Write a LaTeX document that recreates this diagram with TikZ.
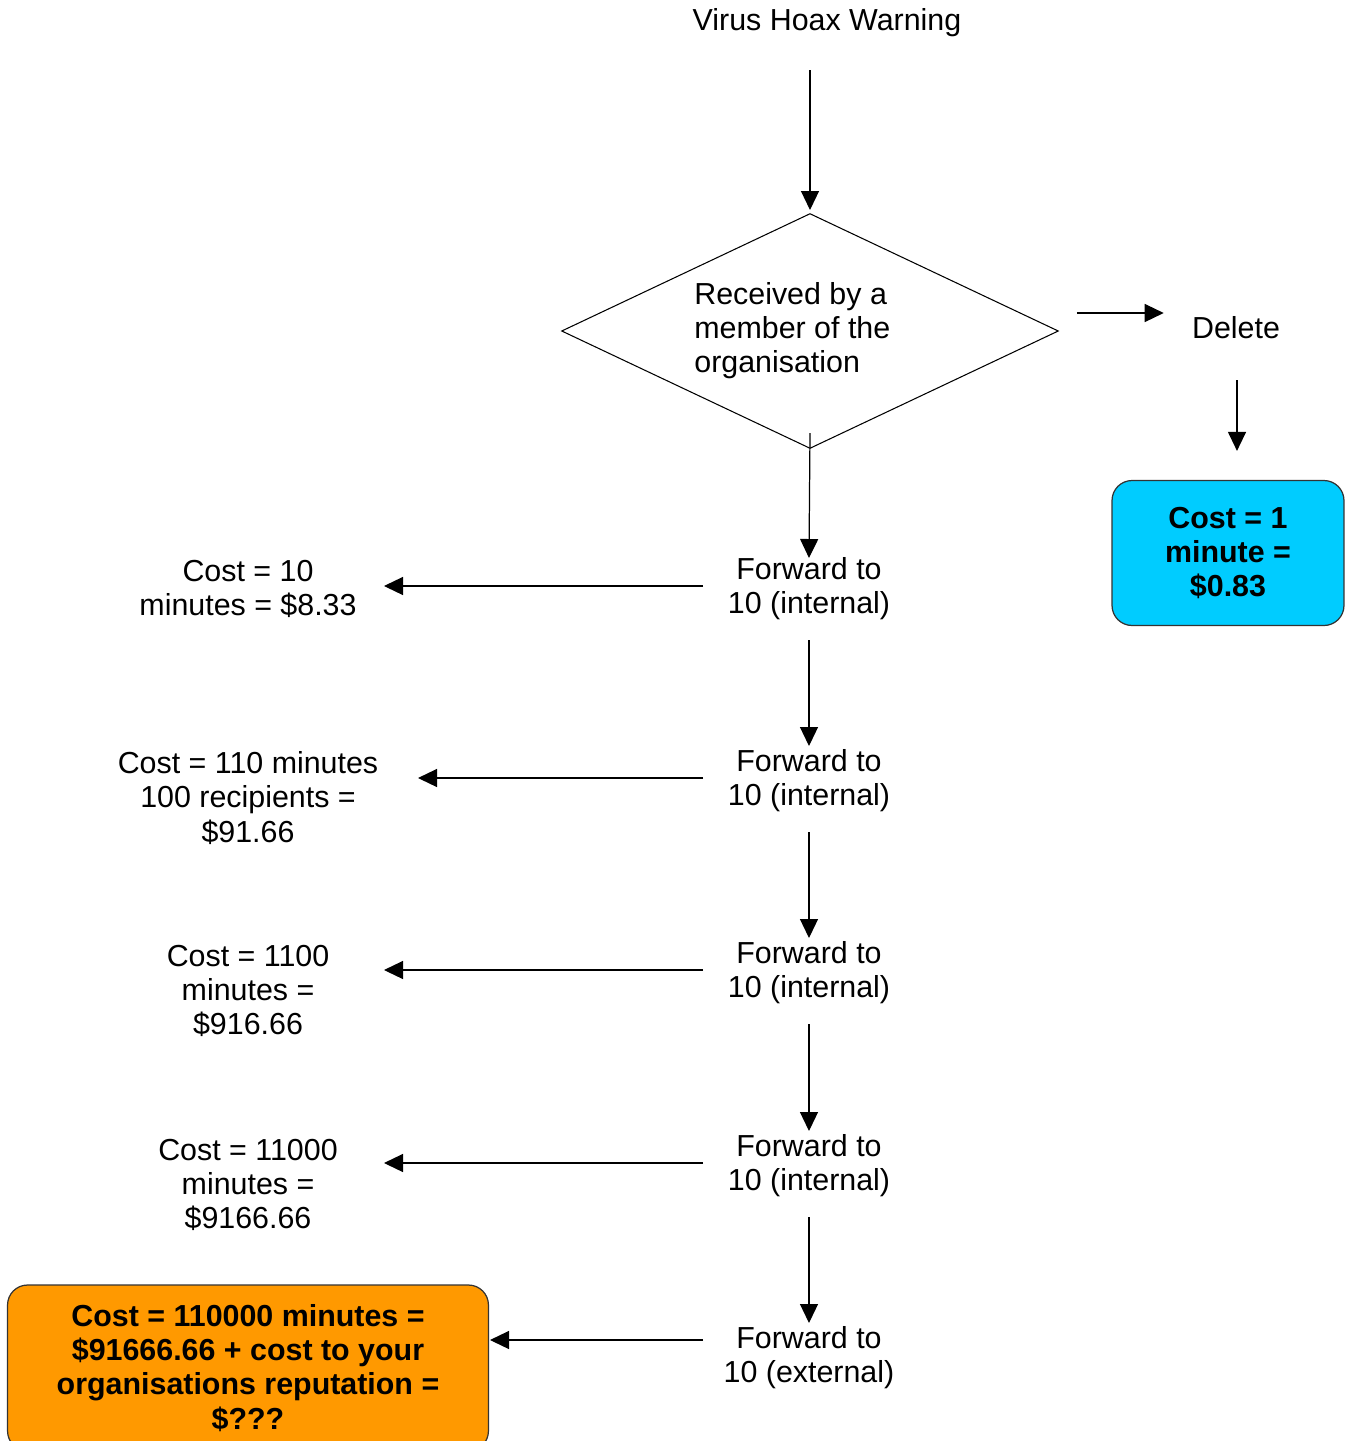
\documentclass[tikz,border=0pt]{standalone}
\usepackage{fontspec}
\setmainfont{Liberation Sans}
\usepackage{tikz}
\usetikzlibrary{arrows.meta,shapes.geometric,positioning,calc}
\definecolor{deletecyan}{HTML}{00CCFF}
\definecolor{spreadorange}{HTML}{FF9900}
\tikzset{
  txt/.style={font=\fontsize{17.3}{19.4}\selectfont, align=center, inner sep=0pt},
  flow/.style={-{Triangle[length=0.38cm,width=0.36cm]}, line width=0.7pt},
  decide/.style={diamond, draw, line width=0.6pt, minimum width=9.94cm, minimum height=4.7cm, inner sep=0pt},
  costbox/.style={txt, draw=black!80, line width=0.7pt, rounded corners=0.4cm, font=\fontsize{17.3}{19.4}\selectfont\bfseries}
}
\begin{document}
\begin{tikzpicture}[x=0.02cm, y=-0.02cm]
  \useasboundingbox (0,0) rectangle (1347,1441);
  % top of the chart
  \node[txt] (title) at (827,23) {Virus Hoax Warning};
  \node[decide] (recv) at (810,331) {};
  \node[txt, align=left, anchor=west] (recvtext) at (694,331) {Received by a\\member of the\\organisation};
  \node[txt] (del) at (1236,328) {Delete};
  \node[costbox, fill=deletecyan, minimum width=4.64cm, minimum height=2.9cm] (delcost) at (1228,553) {Cost = 1\\minute =\\\$0.83};
  % forwarding chain
  \node[txt] (fwd1) at (809,589) {Forward to\\10 (internal)};
  \node[txt] (fwd2) at (809,781) {Forward to\\10 (internal)};
  \node[txt] (fwd3) at (809,973) {Forward to\\10 (internal)};
  \node[txt] (fwd4) at (809,1166) {Forward to\\10 (internal)};
  \node[txt] (fwd5) at (809,1358) {Forward to\\10 (external)};
  % costs on the left
  \node[txt] (cost1) at (248,589) {Cost = 10\\minutes = \$8.33};
  \node[txt] (cost2) at (248,798) {Cost = 110 minutes\\100 recipients =\\\$91.66};
  \node[txt] (cost3) at (248,991) {Cost = 1100\\minutes =\\\$916.66};
  \node[txt] (cost4) at (248,1185) {Cost = 11000\\minutes =\\\$9166.66};
  \node[costbox, fill=spreadorange, minimum width=9.62cm, minimum height=3.32cm] (cost5) at (248,1368) {Cost = 110000 minutes =\\\$91666.66 + cost to your\\organisations reputation =\\\$???};

  \draw[flow] ([shift={(-17,47)}]title.center) -- ([shift={(0,-3)}]recv.north);
  \draw[flow] ([shift={(18,-18)}]recv.east) -- ([shift={(-28,-15)}]del.west);
  \draw[flow] ([shift={(1,52)}]del.center) -- ([shift={(9,-29)}]delcost.north);
  \draw[flow] ([shift={(0,-16)}]recv.south) -- ([shift={(0,-31)}]fwd1.center);
  \foreach \a/\b in {fwd1/fwd2,fwd2/fwd3,fwd3/fwd4,fwd4/fwd5}
    \draw[flow] ([shift={(0,51)}]\a.center) -- ([shift={(0,-35)}]\b.center);
  \draw[flow] ([shift={(-106,-3)}]fwd1.center) -- ([shift={(136,-3)}]cost1.center);
  \draw[flow] ([shift={(-106,-3)}]fwd2.center) -- ([shift={(170,-20)}]cost2.center);
  \draw[flow] ([shift={(-106,-3)}]fwd3.center) -- ([shift={(136,-21)}]cost3.center);
  \draw[flow] ([shift={(-106,-3)}]fwd4.center) -- ([shift={(136,-22)}]cost4.center);
  \draw[flow] ([shift={(-106,-18)}]fwd5.center) -- ([shift={(242,-28)}]cost5.center);
\end{tikzpicture}
\end{document}
